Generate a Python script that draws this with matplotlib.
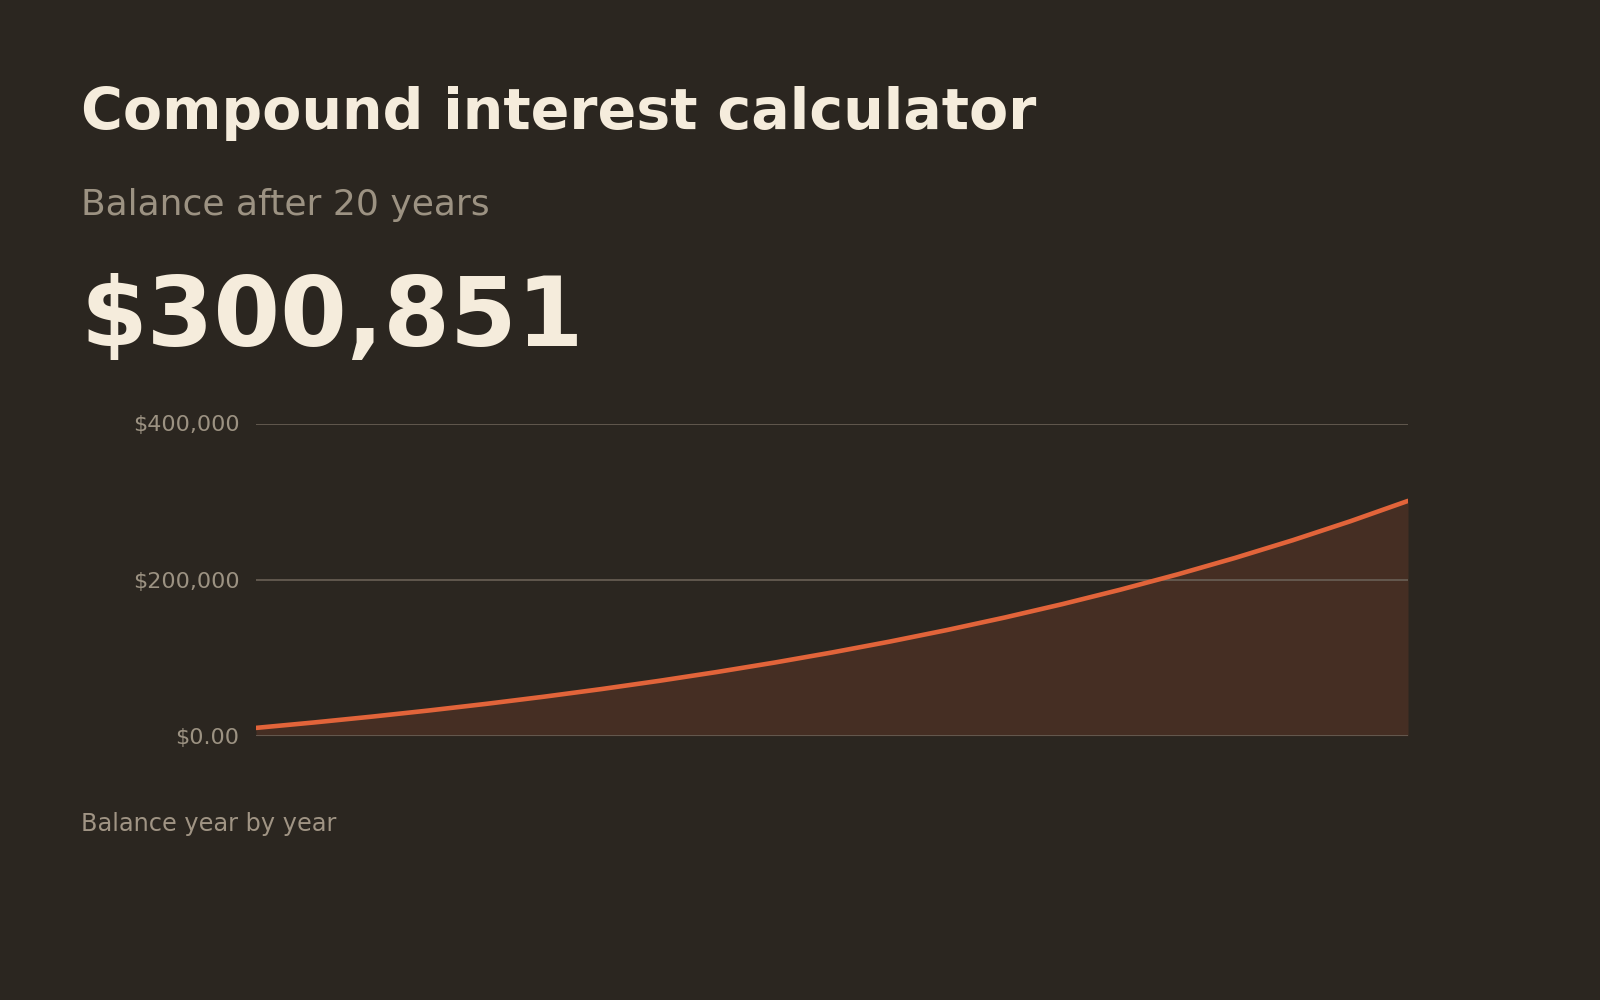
import numpy as np
import matplotlib
matplotlib.use("Agg")
import matplotlib.pyplot as plt

plt.rcParams['font.family'] = ['DejaVu Sans']

# Datos
years = list(range(0, 21))
balance = [10000, 16919, 24338, 32295, 40826, 49972, 59781, 70299, 81577, 93671,
           106639, 120544, 135456, 151444, 168587, 186970, 206683, 227820, 250485,
           274790, 300851]
tick_values = [0, 200000, 400000]
tick_labels = ["$0.00", "$200,000", "$400,000"]

bg = "#2b2620"
cream = "#f5ecdc"
grey = "#9c9282"
orange = "#e2643a"

fig = plt.figure(figsize=(16, 10), dpi=100, facecolor=bg)
ax = fig.add_axes([0.16, 0.2643, 0.72, 0.3122], facecolor=bg)

ax.fill_between(years, balance, 0, color="#452e23", zorder=1, linewidth=0)
for v in tick_values:
    ax.axhline(v, color="#6a6056", linewidth=1.2, zorder=2)
ax.plot(years, balance, color=orange, linewidth=3.3, solid_capstyle="round", zorder=3)

ax.set_xlim(0, 20)
ax.set_ylim(0, 400000)
ax.set_xticks([])
ax.set_yticks(tick_values)
ax.set_yticklabels(tick_labels)
ax.tick_params(axis="y", length=0, pad=12, labelsize=16, labelcolor=grey)
for s in ax.spines.values():
    s.set_visible(False)

# Textos
fig.text(0.0506, 0.871, "Compound interest calculator", color=cream, fontsize=41,
         fontweight="bold", va="baseline")
fig.text(0.0506, 0.785, "Balance after 20 years", color=grey, fontsize=26, va="baseline")
fig.text(0.0506, 0.654, "$300,851", color=cream, fontsize=69, fontweight="bold",
         va="baseline")
fig.text(0.0506, 0.169, "Balance year by year", color="#a09484", fontsize=17.3,
         va="baseline")

fig.savefig("out.png", dpi=100, facecolor=bg)
